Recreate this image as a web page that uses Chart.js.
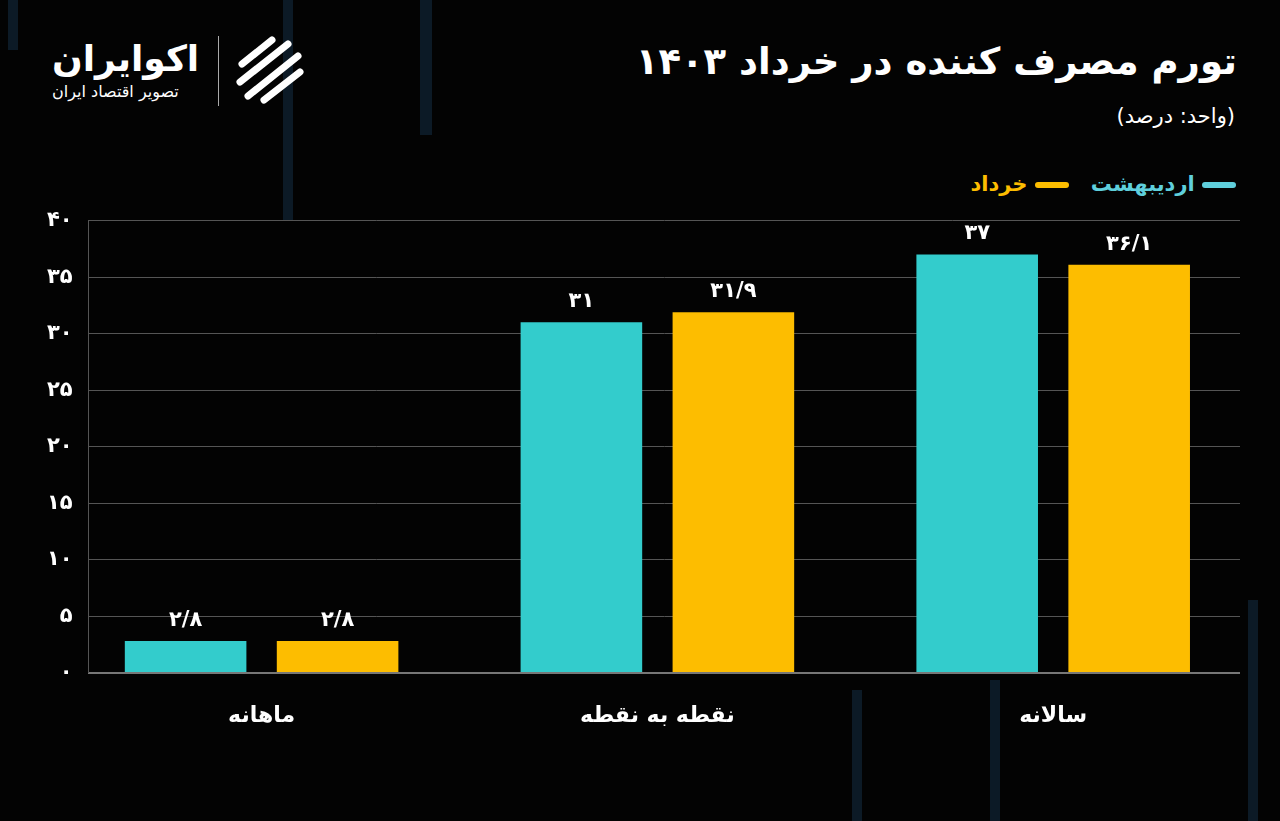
<!DOCTYPE html>
<html><head><meta charset="utf-8">
<script src="https://cdn.jsdelivr.net/npm/chart.js@4"></script>
<style>
html,body{margin:0;padding:0;background:#030303;width:1280px;height:821px;overflow:hidden;font-family:"DejaVu Sans",sans-serif;color:#fff}
.t{position:absolute;direction:rtl;white-space:nowrap}
#wrap{position:absolute;left:0;top:192px;width:1240px;height:559px}
.deco{position:absolute;background:#0c1a26}
</style></head><body>
<div class="deco" style="left:8px;top:0;width:10px;height:50px"></div>
<div class="deco" style="left:283px;top:0;width:10px;height:220px"></div>
<div class="deco" style="left:420px;top:0;width:12px;height:135px"></div>
<div class="deco" style="left:1248px;top:600px;width:10px;height:221px"></div>
<div class="deco" style="left:852px;top:690px;width:10px;height:131px"></div>
<div class="deco" style="left:990px;top:680px;width:10px;height:141px"></div>
<div class="t" style="right:43px;top:40px;font-size:37px;font-weight:bold">تورم مصرف کننده در خرداد ۱۴۰۳</div>
<div class="t" style="right:45px;top:104px;font-size:21px">(واحد: درصد)</div>
<div class="t" style="right:44px;top:172px;font-size:21px;font-weight:bold">
<span style="display:inline-block;width:34px;height:6px;background:#5fcfdc;border-radius:3px;vertical-align:middle"></span>
<span style="color:#5fcfdc">اردیبهشت</span>&nbsp;&nbsp;
<span style="display:inline-block;width:34px;height:6px;background:#fdbd00;border-radius:3px;vertical-align:middle"></span>
<span style="color:#fdbd00">خرداد</span></div>
<div class="t" style="left:52px;top:38px;font-size:36px;font-weight:bold">اکوایران</div>
<div class="t" style="left:52px;top:82px;font-size:16px">تصویر اقتصاد ایران</div>
<div style="position:absolute;left:218px;top:36px;width:1px;height:70px;background:#aaa"></div>
<svg style="position:absolute;left:232px;top:34px" width="74" height="72" viewBox="0 0 74 72">
<g fill="none" stroke="#fff" stroke-width="7" stroke-linecap="round">
<path d="M10 30 L40 6"/><path d="M8 48 L56 10"/><path d="M16 62 L66 22"/><path d="M32 66 L68 38"/></g></svg>
<div id="wrap"><canvas id="c"></canvas></div>
<script>
const categories=["ماهانه","نقطه به نقطه","سالانه"];
const seriesNames=["اردیبهشت","خرداد"];
const ordibehesht=[2.8,31,37];
const khordad=[2.8,31.9,36.1];
const yTicks=[0,5,10,15,20,25,30,35,40];
const colors=["#33cccc","#fdbd00"];
const fa=v=>String(v).replace('.','/').replace(/\d/g,d=>"۰۱۲۳۴۵۶۷۸۹"[d]);
const pts=arr=>arr.map((v,i)=>({x:i,y:v}));
const labelPlugin={id:'lbl',afterDatasetsDraw(ch){const c=ch.ctx;c.save();c.fillStyle='#fff';c.font='bold 21px "DejaVu Sans"';c.textAlign='center';c.textBaseline='bottom';
ch.data.datasets.forEach((ds,i)=>ch.getDatasetMeta(i).data.forEach((b,j)=>c.fillText(fa(ds.data[j].y),b.x,b.y-10)));c.restore();}};
new Chart(document.getElementById('c'),{type:'bar',
data:{datasets:[
{label:seriesNames[0],data:pts(ordibehesht),backgroundColor:colors[0]},
{label:seriesNames[1],data:pts(khordad),backgroundColor:colors[1]}]},
options:{responsive:true,maintainAspectRatio:false,animation:false,
layout:{padding:{left:31,right:0,top:12,bottom:0}},
plugins:{legend:{display:false},tooltip:{enabled:false}},
datasets:{bar:{categoryPercentage:0.768,barPercentage:0.80}},
scales:{
x:{type:'linear',offset:false,min:-0.437,max:2.472,afterBuildTicks:a=>{a.ticks=categories.map((_,i)=>({value:i}));},
grid:{display:false},border:{color:'#777',width:2},ticks:{color:'#fff',font:{size:22,weight:'bold',family:'"DejaVu Sans"'},padding:22,callback:v=>categories[v]}},
y:{min:0,max:40,afterBuildTicks:a=>{a.ticks=yTicks.map(v=>({value:v}));},
grid:{color:'#555',drawTicks:false},border:{color:'#555'},
ticks:{color:'#fff',font:{size:21,weight:'bold',family:'"DejaVu Sans"'},padding:16,callback:v=>fa(v)}}}},
plugins:[labelPlugin]});
</script></body></html>
